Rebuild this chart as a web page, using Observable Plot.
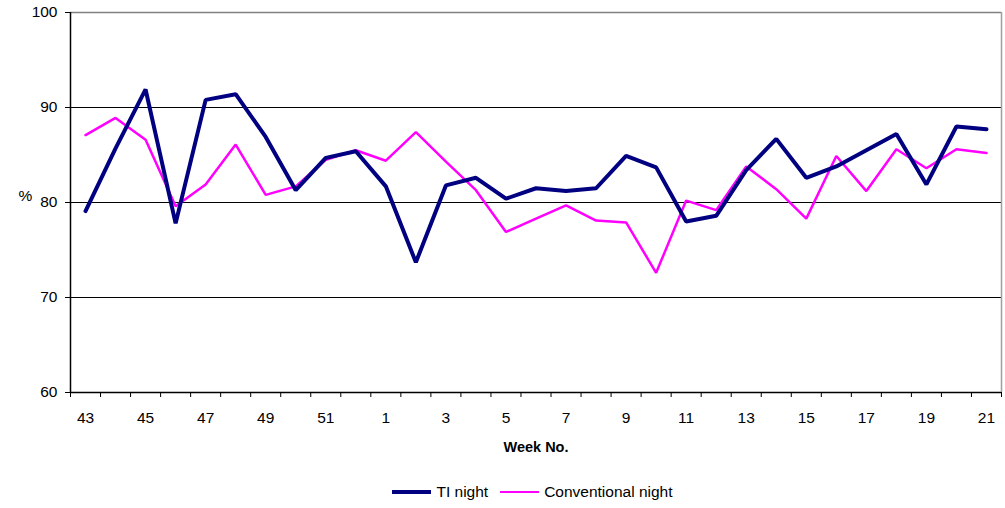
<!DOCTYPE html>
<html>
<head>
<meta charset="utf-8">
<script src="https://cdn.jsdelivr.net/npm/d3@7"></script>
<script src="https://cdn.jsdelivr.net/npm/@observablehq/plot@0.6"></script>
<style>
  body { margin: 0; background: #fff; font-family: "Liberation Sans", Arial, sans-serif; }
  #chart { position: relative; width: 1005px; }
  .legend { display: flex; justify-content: center; align-items: center; font-size: 15.5px; color: #000; margin-top: 23px; padding-left: 60px; }
  .legend .item { display: flex; align-items: center; margin: 0 6px; }
  .legend .swatch { width: 39px; margin-right: 5px; }
</style>
</head>
<body>
<div id="chart"></div>
<script>
// Weeks of the season, from week 43 through the new year to week 21
const weeks = ["43","44","45","46","47","48","49","50","51","52",
  "1","2","3","4","5","6","7","8","9","10","11","12","13","14","15","16","17","18","19","20","21"];

// Percentages per week
const tiNight = [79.1, 85.7, 91.9, 77.8, 90.8, 91.4, 86.9, 81.3, 84.7, 85.4,
  81.7, 73.7, 81.8, 82.6, 80.4, 81.5, 81.2, 81.5, 84.9, 83.7,
  78.0, 78.6, 83.4, 86.7, 82.6, 83.8, 85.5, 87.2, 81.9, 88.0, 87.7];
const conventionalNight = [87.1, 88.9, 86.6, 79.6, 81.9, 86.1, 80.8, 81.7, 84.5, 85.5,
  84.4, 87.4, 84.3, 81.3, 76.9, 78.3, 79.7, 78.1, 77.9, 72.6,
  80.2, 79.2, 83.8, 81.4, 78.3, 84.9, 81.2, 85.6, 83.6, 85.6, 85.2];

const yTicks = [60, 70, 80, 90, 100];

const seriesNames = ["TI night", "Conventional night"];
const seriesColors = ["#000080", "#ff00ff"];
const seriesWidths = [4, 2.5];

const rows = [];
weeks.forEach((w, i) => {
  rows.push({i, week: w, value: tiNight[i], series: seriesNames[0]});
  rows.push({i, week: w, value: conventionalNight[i], series: seriesNames[1]});
});

const idx = d3.range(weeks.length);
const labelIdx = idx.filter(i => i % 2 === 0);
const boundaries = d3.range(weeks.length + 1).map(i => i - 0.5);

const plot = Plot.plot({
  width: 1005,
  height: 460,
  marginLeft: 70,
  marginRight: 4,
  marginTop: 12,
  marginBottom: 68,
  style: {fontFamily: "Liberation Sans, Arial, sans-serif", fontSize: "15.5px", color: "#000", background: "#fff"},
  x: {domain: [-0.5, weeks.length - 0.5]},
  y: {domain: [60, 100]},
  marks: [
    // horizontal gridlines
    Plot.ruleY(yTicks.filter(v => v > 60 && v < 100), {stroke: "#000", strokeWidth: 1}),
    Plot.ruleY([100], {stroke: "#808080", strokeWidth: 1.5}),
    Plot.ruleX([weeks.length - 0.5], {stroke: "#a0a0a0", strokeWidth: 1.5}),
    // axes
    Plot.axisY({ticks: yTicks, tickSize: 5, tickPadding: 8, label: null, fontSize: 15.5}),
    Plot.axisX({ticks: boundaries, tickSize: 5, tickFormat: () => "", label: null}),
    Plot.axisX({ticks: labelIdx, tickSize: 0, tickPadding: 19, tickFormat: i => weeks[i], label: null, fontSize: 15.5}),
    Plot.ruleX([-0.5], {stroke: "#000", strokeWidth: 1.5}),
    Plot.ruleY([60], {stroke: "#000", strokeWidth: 1.5}),
    // series lines
    Plot.line(rows.filter(d => d.series === seriesNames[1]), {x: "i", y: "value", stroke: seriesColors[1], strokeWidth: seriesWidths[1], strokeLinejoin: "miter"}),
    Plot.line(rows.filter(d => d.series === seriesNames[0]), {x: "i", y: "value", stroke: seriesColors[0], strokeWidth: seriesWidths[0], strokeLinejoin: "miter"}),
    // axis titles
    Plot.text(["Week No."], {frameAnchor: "bottom", dy: 59, fontWeight: "bold", fontSize: 14.5, letterSpacing: "1.5px"}),
    Plot.text(["%"], {frameAnchor: "left", dx: -52, dy: -6, fontSize: 15.5})
  ]
});

const chart = document.getElementById("chart");
chart.appendChild(plot);

// legend below the chart
const legend = document.createElement("div");
legend.className = "legend";
seriesNames.forEach((name, k) => {
  const item = document.createElement("div");
  item.className = "item";
  const sw = document.createElement("div");
  sw.className = "swatch";
  sw.style.borderTop = `${seriesWidths[k]}px solid ${seriesColors[k]}`;
  const label = document.createElement("span");
  label.textContent = name;
  item.appendChild(sw);
  item.appendChild(label);
  legend.appendChild(item);
});
chart.appendChild(legend);
</script>
</body>
</html>
